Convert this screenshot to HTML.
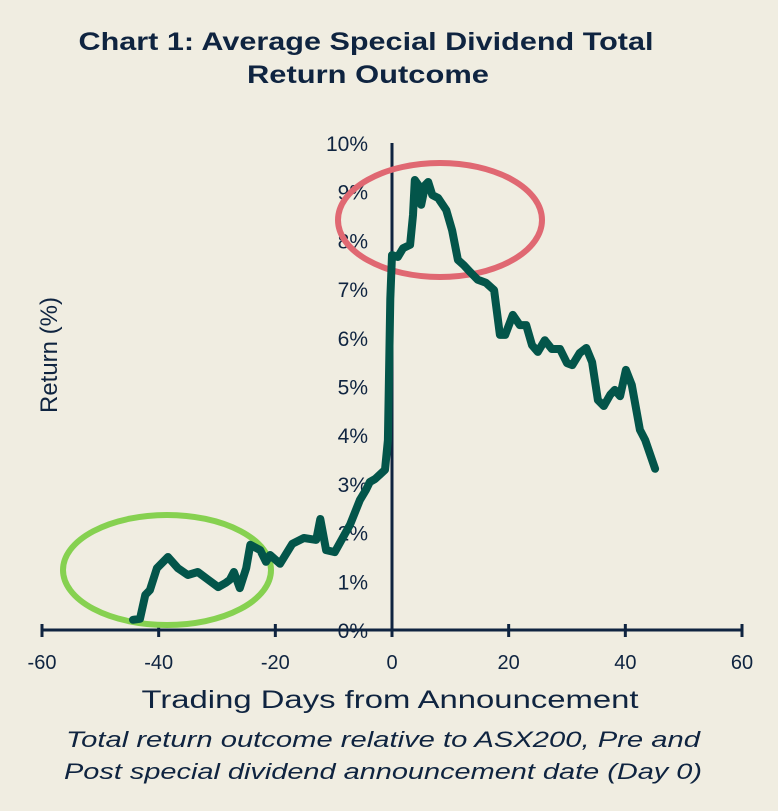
<!DOCTYPE html>
<html><head><meta charset="utf-8"><style>
html,body{margin:0;padding:0;background:#f0ede1;}
svg{display:block;font-family:"Liberation Sans",sans-serif;}
</style></head><body>
<svg width="778" height="811" viewBox="0 0 778 811">
<rect width="778" height="811" fill="#f0ede1"/>
<text x="366" y="50" text-anchor="middle" font-size="25" font-weight="bold" fill="#0f2440" textLength="575" lengthAdjust="spacingAndGlyphs">Chart 1: Average Special Dividend Total</text>
<text x="368" y="83" text-anchor="middle" font-size="25" font-weight="bold" fill="#0f2440" textLength="242" lengthAdjust="spacingAndGlyphs">Return Outcome</text>
<g id="axes"></g>
<ellipse cx="167" cy="570" rx="104" ry="55" fill="none" stroke="#86d150" stroke-width="6"/>
<ellipse cx="440" cy="220" rx="102" ry="57" fill="none" stroke="#e06872" stroke-width="6"/>
<path id="line" fill="none" stroke="#03554a" stroke-width="8" stroke-linejoin="round" stroke-linecap="round"/>
<text transform="translate(57,355) rotate(-90)" text-anchor="middle" font-size="24" fill="#0f2440">Return (%)</text>
<text x="390" y="708" text-anchor="middle" font-size="25" fill="#0f2440" textLength="497" lengthAdjust="spacingAndGlyphs">Trading Days from Announcement</text>
<text x="383" y="747" text-anchor="middle" font-size="22" font-style="italic" fill="#0f2440" textLength="634" lengthAdjust="spacingAndGlyphs">Total return outcome relative to ASX200, Pre and</text>
<text x="383" y="779" text-anchor="middle" font-size="22" font-style="italic" fill="#0f2440" textLength="638" lengthAdjust="spacingAndGlyphs">Post special dividend announcement date (Day 0)</text>
</svg>
<script>
const days=[-44.4,-43.2,-42.3,-41.5,-40.3,-38.4,-36.7,-35.0,-33.3,-31.5,-29.8,-28.5,-27.8,-27.1,-26.1,-25.0,-24.3,-22.6,-21.6,-20.9,-19.2,-17.1,-15.1,-13.0,-12.3,-11.3,-9.8,-8.1,-7.2,-5.5,-4.5,-3.8,-2.9,-1.2,-0.7,-0.3,0,1.0,1.9,3.1,3.6,3.9,4.5,5.0,5.7,6.2,6.9,7.9,9.3,10.3,11.3,12.3,13.4,14.7,16.1,17.5,18.5,19.4,20.7,21.9,23.0,24.0,25.0,26.2,27.4,28.8,30.0,30.9,32.2,33.3,34.3,35.3,36.3,37.4,38.2,39.1,40.1,41.1,42.5,43.4,45.1];
const returns=[0.21,0.23,0.72,0.82,1.27,1.50,1.27,1.13,1.19,1.03,0.88,0.97,1.03,1.19,0.86,1.27,1.75,1.64,1.40,1.54,1.36,1.77,1.89,1.85,2.28,1.64,1.60,1.97,2.16,2.67,2.87,3.04,3.10,3.29,3.9,6.8,7.70,7.66,7.84,7.91,8.52,9.24,9.14,8.73,9.14,9.20,8.93,8.87,8.62,8.21,7.60,7.49,7.35,7.19,7.13,6.98,6.06,6.06,6.47,6.26,6.26,5.85,5.71,5.95,5.77,5.77,5.48,5.44,5.69,5.79,5.50,4.72,4.60,4.83,4.93,4.80,5.34,5.03,4.11,3.90,3.31];
const xTicks=[-60,-40,-20,0,20,40,60];
const yTicks=[0,1,2,3,4,5,6,7,8,9,10];
const NS="http://www.w3.org/2000/svg";
const X=d=>392+d*(700/120);
const Y=v=>630-v*48.7;
const axes=document.getElementById('axes');
function mk(tag,attrs){const e=document.createElementNS(NS,tag);for(const k in attrs)e.setAttribute(k,attrs[k]);axes.appendChild(e);return e;}
let xa=mk('line',{x1:X(-60),x2:X(60),y1:630,y2:630,stroke:'#0f2440','stroke-width':3});


let ya=mk('line',{x1:X(0),x2:X(0),y1:Y(10),y2:630,stroke:'#0f2440','stroke-width':3});


xTicks.forEach(t=>{
  let tk=mk('line',{x1:X(t),x2:X(t),y1:624,y2:637,stroke:'#0f2440','stroke-width':3});
  
  
  let lb=mk('text',{x:X(t),y:669,'text-anchor':'middle','font-size':20,fill:'#0f2440'});
  lb.textContent=t;
  
  
});
yTicks.forEach(t=>{
  let lb=mk('text',{x:368,y:Y(t)+8,'text-anchor':'end','font-size':21,fill:'#0f2440'});
  lb.textContent=t+'%';
  
  
});
document.getElementById('line').setAttribute('d',days.map((d,i)=>(i?'L':'M')+X(d).toFixed(1)+','+Y(returns[i]).toFixed(1)).join(''));
</script>
</body></html>
